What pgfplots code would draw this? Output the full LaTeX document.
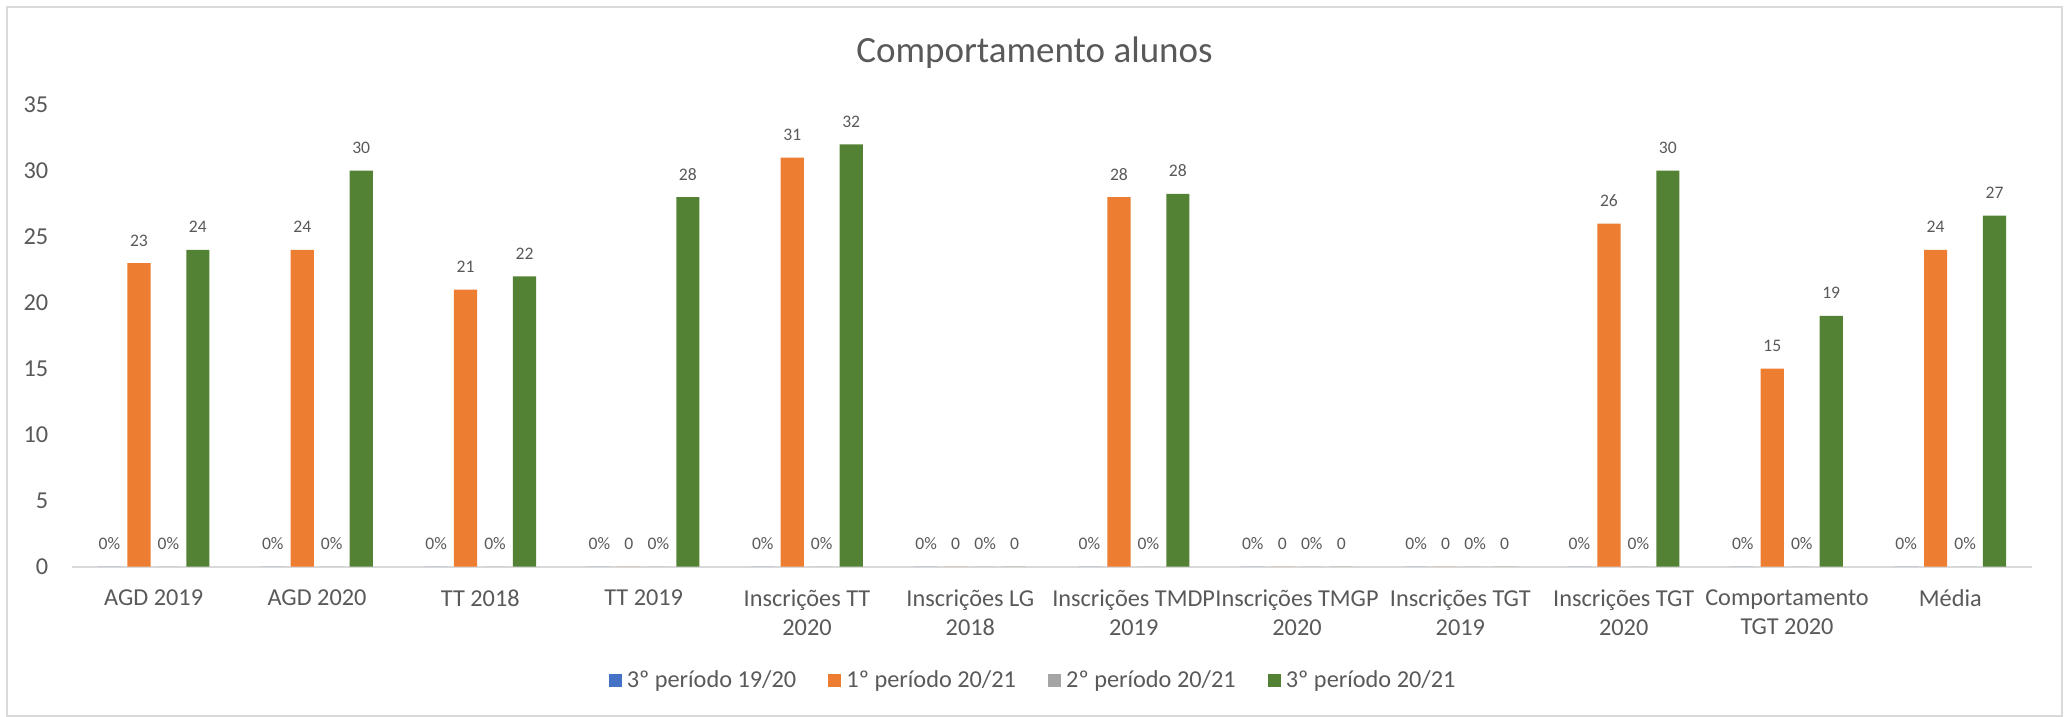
\documentclass[border=0pt]{standalone}
\usepackage{pgfplots}
\pgfplotsset{compat=1.18}
\usepackage{fontspec}
\setmainfont{Carlito}
\definecolor{cblue}{HTML}{4472C4}
\definecolor{corange}{HTML}{ED7D31}
\definecolor{cgray}{HTML}{A5A5A5}
\definecolor{cgreen}{HTML}{548235}
\definecolor{ctext}{HTML}{595959}
\definecolor{cline}{HTML}{D9D9D9}
\begin{document}
\begin{tikzpicture}
\useasboundingbox (-36bp,-75.15bp) rectangle (998.5bp,283.35bp);
\draw[draw=cline, line width=1bp] (-32.3bp,-74.6bp) rectangle (994.9bp,280bp);
\begin{axis}[
  at={(0,0)}, anchor=south west,
  scale only axis, width=980bp, height=231bp,
  xmin=-0.5, xmax=11.5, ymin=0, ymax=35,
  clip=false,
  ybar, bar width=11.6bp,
  axis lines*=left,
  x axis line style={draw=cline, line width=1bp},
  y axis line style={draw=none},
  major tick length=0pt, tick style={draw=none},
  /pgf/number format/assume math mode=true,
  ytick={0,5,...,35},
  yticklabel style={anchor=east, inner sep=0pt, xshift=-11.7bp, text=ctext, font=\fontsize{12.15bp}{14.5bp}\selectfont},
  xtick={0,...,11},
  xticklabels={AGD 2019, AGD 2020, TT 2018, TT 2019, {Inscrições TT\\2020}, {Inscrições LG\\2018}, {Inscrições TMDP\\2019}, {Inscrições TMGP\\2020}, {Inscrições TGT\\2019}, {Inscrições TGT\\2020}, {Comportamento\\TGT 2020}, Média},
  xticklabel style={anchor=north, align=center, inner sep=0pt, yshift=-11.4bp, text=ctext, font=\fontsize{12.15bp}{14.5bp}\selectfont},
  title={Comportamento alunos},
  title style={at={(axis description cs:0.49107,1)}, anchor=base, yshift=14.9bp, inner sep=0pt, text=ctext, font=\fontsize{18.5bp}{22bp}\selectfont},
  legend columns=4,
  legend style={at={(axis description cs:0.49107,-0.2468)}, anchor=center, draw=none, fill=none, inner sep=0pt,
    font=\fontsize{12.15bp}{14.5bp}\selectfont, text=ctext,
    nodes={inner xsep=2.5bp, inner ysep=0pt},
    /tikz/every even column/.append style={column sep=13.5bp}},
  legend image code/.code={\fill[#1] (0bp,-3.3bp) rectangle (6.6bp,3.3bp);},
  every node near coord/.append style={anchor=base, yshift=8.5bp, inner sep=0pt, text=ctext, font=\fontsize{8.8bp}{10bp}\selectfont},
]
\addplot[fill=cblue, draw=none, bar shift=-22.1bp, nodes near coords={0\%}] coordinates {
(0,0) (1,0) (2,0) (3,0) (4,0) (5,0) (6,0) (7,0) (8,0) (9,0) (10,0) (11,0)};
\addplot[fill=corange, draw=none, bar shift=-7.37bp, nodes near coords={\pgfmathprintnumber[fixed,precision=0]{\pgfplotspointmeta}}] coordinates {
(0,23) (1,24) (2,21) (3,0) (4,31) (5,0) (6,28) (7,0) (8,0) (9,26) (10,15) (11,24)};
\addplot[fill=cgray, draw=none, bar shift=7.37bp, nodes near coords={0\%}] coordinates {
(0,0) (1,0) (2,0) (3,0) (4,0) (5,0) (6,0) (7,0) (8,0) (9,0) (10,0) (11,0)};
\addplot[fill=cgreen, draw=none, bar shift=22.1bp, nodes near coords={\pgfmathprintnumber[fixed,precision=0]{\pgfplotspointmeta}}] coordinates {
(0,24) (1,30) (2,22) (3,28) (4,32) (5,0) (6,28.25) (7,0) (8,0) (9,30) (10,19) (11,26.6)};
\legend{3º período 19/20, 1º período 20/21, 2º período 20/21, 3º período 20/21}
\end{axis}
\end{tikzpicture}
\end{document}
